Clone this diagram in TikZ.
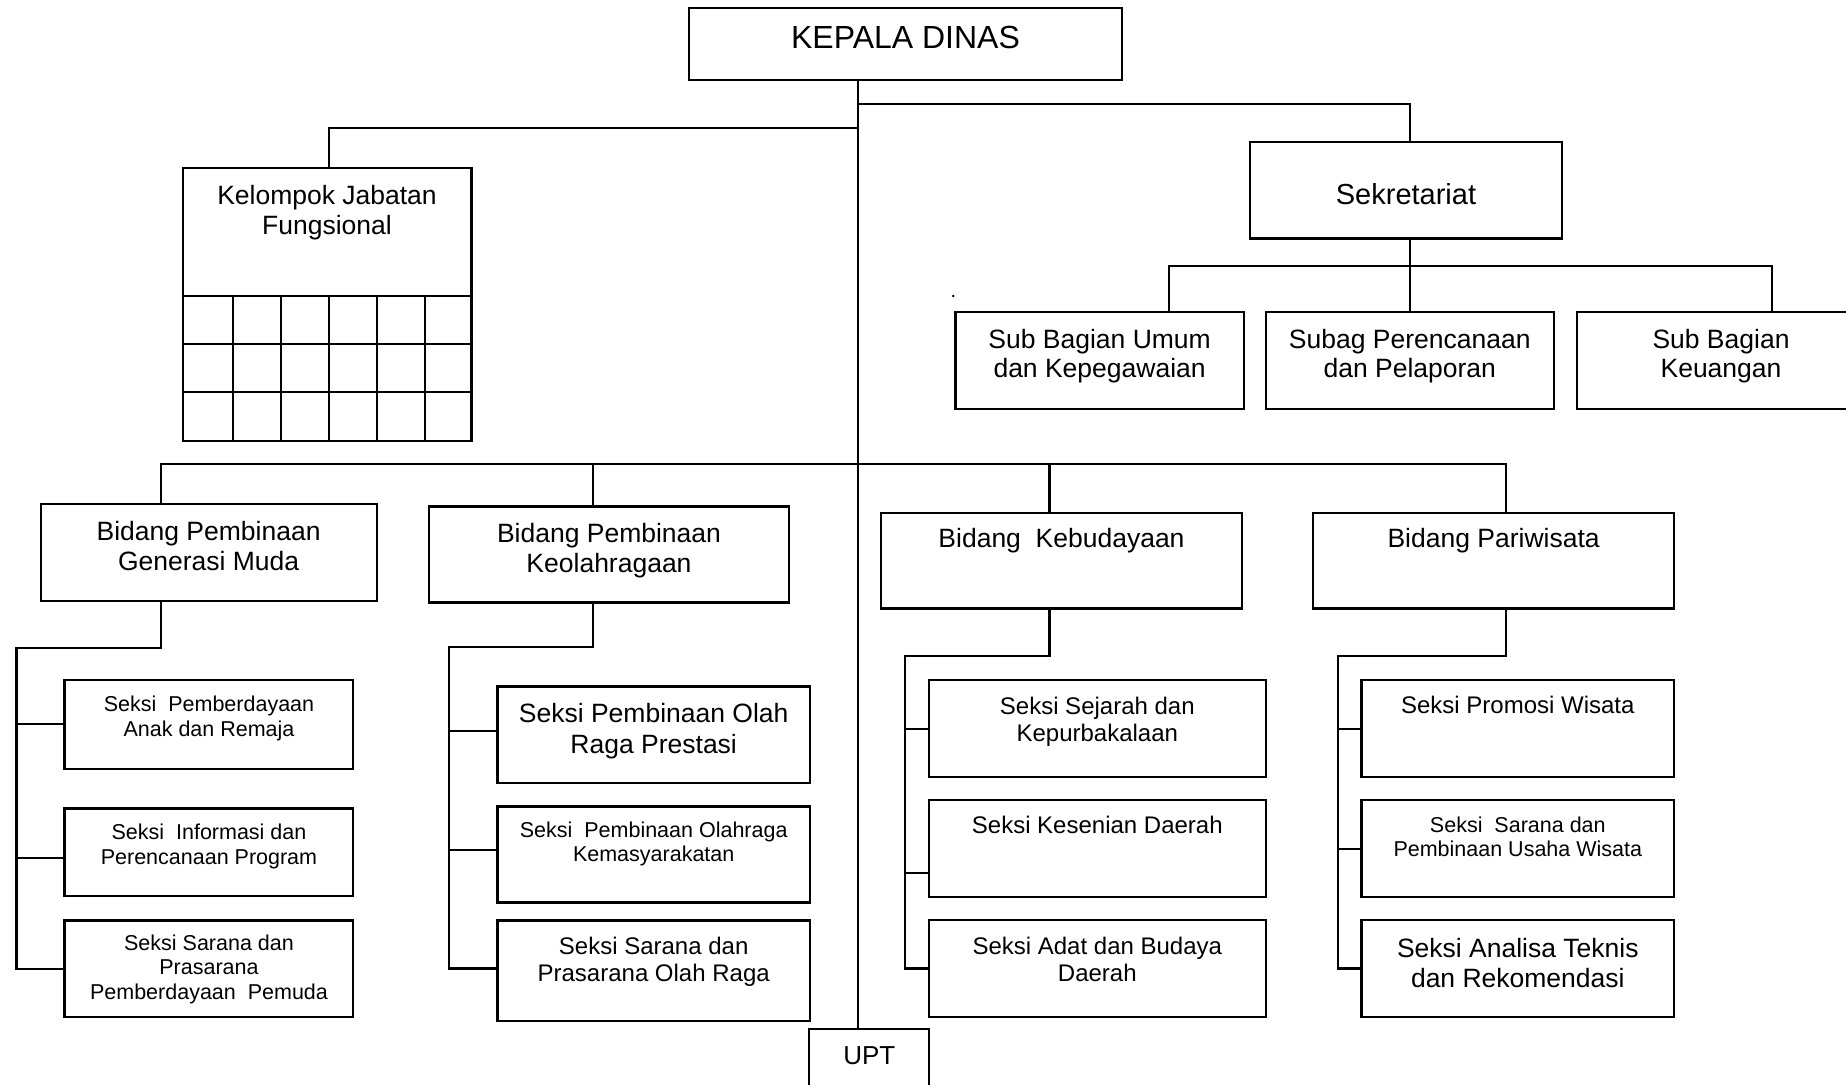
\documentclass[tikz,border=0pt]{standalone}
\usepackage{fontspec}
\setmainfont{Liberation Sans}

% box given by left, top, right, bottom (1 unit = 1pt, y grows downwards)
\newcommand\orgbox[5]{%
  \node[unit, minimum width={#4-#2}, minimum height={#5-#3}] (#1)
    at ({(#2+#4)/2},{(#3+#5)/2}) {};}

\begin{document}
\begin{tikzpicture}[x=1pt,y=-1pt,
  unit/.style={draw, line width=2.2pt, rectangle, inner sep=0pt},
  lnk/.style={line width=2.2pt},
  % labels are placed by the baseline of their last line
  lbl/.style={anchor=base, align=center, inner sep=0pt},
  fxl/.style={lbl, font=\fontsize{32}{36}\selectfont},
  fl/.style={lbl, font=\fontsize{29}{33}\selectfont},
  fb/.style={lbl, font=\fontsize{26.5}{30}\selectfont},
  fm/.style={lbl, font=\fontsize{24}{27}\selectfont},
  fs/.style={lbl, font=\fontsize{21.5}{24.6}\selectfont},
]
\useasboundingbox (0,0) rectangle (1846,1084);
\fill[white] (0,0) rectangle (1846,1084);
\clip (0,0) rectangle (1846,1084);

% ---------- boxes ----------
\orgbox{kepala}{689}{8}{1122}{80}
\orgbox{sek}{1250}{142}{1562}{238.5}
\orgbox{kel}{183}{168.3}{471.5}{440.7}
\orgbox{subA}{955.4}{312}{1243.8}{408.6}
\orgbox{subB}{1265.6}{312}{1554}{408.6}
\orgbox{subC}{1576.7}{312}{1870}{408.6}
\orgbox{gm}{40.6}{504}{376.7}{601}
\orgbox{ko}{429}{506.4}{789.3}{602.5}
\orgbox{kb}{881}{512.6}{1242}{608.4}
\orgbox{pw}{1313.2}{512.6}{1674}{608.4}
\orgbox{gmA}{64.5}{680.3}{353.3}{768.7}
\orgbox{gmB}{64.5}{808.5}{353.3}{896.3}
\orgbox{gmC}{64.5}{920.5}{353.3}{1016.6}
\orgbox{koA}{497.4}{686.5}{810}{782.6}
\orgbox{koB}{497.4}{806.4}{810}{902.5}
\orgbox{koC}{497.4}{920.5}{810}{1021}
\orgbox{kbA}{929}{680.3}{1265.6}{776.7}
\orgbox{kbB}{929}{799.9}{1265.6}{896.6}
\orgbox{kbC}{929}{920.2}{1265.6}{1016.6}
\orgbox{pwA}{1361.5}{680.3}{1674}{776.7}
\orgbox{pwB}{1361.5}{799.9}{1674}{896.6}
\orgbox{pwC}{1361.5}{920.2}{1674}{1016.6}
\orgbox{upt}{809.3}{1029}{929}{1120}

% grid of the functional group
\foreach \y in {296,344.3,392.3} \draw[lnk] (183,\y) -- (473,\y);
\foreach \x in {233,281,329,377,425} \draw[lnk] (\x,296) -- (\x,440.7);

% ---------- labels ----------
\node[fxl] (kepala-t) at (905.5,48) {KEPALA DINAS};
\node[fl] (sek-t) at (1406,204) {Sekretariat};
\node[fb] (kel-t) at (327,234) {Kelompok Jabatan\\Fungsional};
\node[fb, font=\fontsize{26.5}{29.4}\selectfont] (subA-t) at (1099.6,377.7) {Sub Bagian Umum\\dan Kepegawaian};
\node[fb, font=\fontsize{26.5}{29.4}\selectfont] (subB-t) at (1409.8,377.7) {Subag Perencanaan\\dan Pelaporan};
\node[fb, font=\fontsize{26.5}{29.4}\selectfont] (subC-t) at (1721,377.7) {Sub Bagian\\Keuangan};
\node[fb] (gm-t) at (208.6,570) {Bidang Pembinaan\\Generasi Muda};
\node[fb] (ko-t) at (609,572) {Bidang Pembinaan\\Keolahragaan};
\node[fb] (kb-t) at (1061.5,547) {Bidang\ \ Kebudayaan};
\node[fb] (pw-t) at (1493.6,547) {Bidang Pariwisata};

\node[fs] (gmA-t) at (209,736) {Seksi\ \ Pemberdayaan\\Anak dan Remaja};
\node[fs] (gmB-t) at (209,864) {Seksi\ \ Informasi dan\\Perencanaan Program};
\node[fs] (gmC-t) at (209,999.5) {Seksi Sarana dan\\Prasarana\\Pemberdayaan\ \ Pemuda};

\node[fb, font=\fontsize{26.5}{31}\selectfont] (koA-t) at (653.7,753) {Seksi Pembinaan Olah\\Raga Prestasi};
\node[fs] (koB-t) at (653.7,861.7) {Seksi\ \ Pembinaan Olahraga\\Kemasyarakatan};
\node[fm, font=\fontsize{24}{26.6}\selectfont] (koC-t) at (653.7,981) {Seksi Sarana dan\\Prasarana Olah Raga};

\node[fm] (kbA-t) at (1097.3,741.4) {Seksi Sejarah dan\\Kepurbakalaan};
\node[fm] (kbB-t) at (1097.3,833) {Seksi Kesenian Daerah};
\node[fm, font=\fontsize{24}{26.6}\selectfont] (kbC-t) at (1097.3,981) {Seksi Adat dan Budaya\\Daerah};

\node[fm] (pwA-t) at (1517.8,713) {Seksi Promosi Wisata};
\node[fs] (pwB-t) at (1517.8,856.6) {Seksi\ \ Sarana dan\\Pembinaan Usaha Wisata};
\node[fb] (pwC-t) at (1517.8,987) {Seksi Analisa Teknis\\dan Rekomendasi};

\node[fb, font=\fontsize{26}{30}\selectfont] (upt-t) at (869.3,1064.3) {UPT};

\fill (953.3,296) circle (1.4pt);

% ---------- connectors ----------
\coordinate (tr) at (857.7,0);
\draw[lnk] (kepala.south -| tr) -- (upt.north -| tr);

\coordinate (jS) at (857.7,103.7);
\coordinate (xS) at (1410,0);
\draw[lnk] (jS) -| (sek.north -| xS);

\coordinate (jK) at (857.7,128.2);
\coordinate (xK) at (329,0);
\draw[lnk] (jK) -| (kel.north -| xK);

% secretariat units
\coordinate (yT) at (0,266.2);
\coordinate (xU1) at (1169,0);
\coordinate (xU3) at (1772,0);
\draw[lnk] (sek.south -| xS) -- (subB.north -| xS);
\draw[lnk] (subA.north -| xU1) |- (yT -| xU3) -- (subC.north -| xU3);

% fields bus
\coordinate (yB) at (0,464.2);
\coordinate (xGM) at (160.7,0);
\coordinate (xKO) at (593.3,0);
\coordinate (xKB) at (1049.5,0);
\coordinate (xPW) at (1505.7,0);
\draw[lnk] (gm.north -| xGM) |- (yB -| xPW) -- (pw.north -| xPW);
\draw[lnk] (yB -| xKO) -- (ko.north -| xKO);
\draw[lnk] (yB -| xKB) -- (kb.north -| xKB);

% Generasi Muda sections
\coordinate (gmJ) at (16.5,647.7);
\coordinate (gm1) at (16.5,724.2);
\coordinate (gm2) at (16.5,858.3);
\coordinate (gm3) at (16.5,968.6);
\draw[lnk] (gm.south -| xGM) |- (gmJ) -- (gm3) -- (gm3 -| gmC.west);
\draw[lnk] (gm1) -- (gm1 -| gmA.west);
\draw[lnk] (gm2) -- (gm2 -| gmB.west);

% Keolahragaan sections
\coordinate (koJ) at (449,646.7);
\coordinate (ko1) at (449,730.7);
\coordinate (ko2) at (449,850);
\coordinate (ko3) at (449,968.5);
\draw[lnk] (ko.south -| xKO) |- (koJ) -- (ko3) -- (ko3 -| koC.west);
\draw[lnk] (ko1) -- (ko1 -| koA.west);
\draw[lnk] (ko2) -- (ko2 -| koB.west);

% Kebudayaan sections
\coordinate (kbJ) at (905,656);
\coordinate (kb1) at (905,728.7);
\coordinate (kb2) at (905,872.8);
\coordinate (kb3) at (905,968.5);
\draw[lnk] (kb.south -| xKB) |- (kbJ) -- (kb3) -- (kb3 -| kbC.west);
\draw[lnk] (kb1) -- (kb1 -| kbA.west);
\draw[lnk] (kb2) -- (kb2 -| kbB.west);

% Pariwisata sections
\coordinate (pwJ) at (1338,656);
\coordinate (pw1) at (1338,728.7);
\coordinate (pw2) at (1338,848.6);
\coordinate (pw3) at (1338,968.5);
\draw[lnk] (pw.south -| xPW) |- (pwJ) -- (pw3) -- (pw3 -| pwC.west);
\draw[lnk] (pw1) -- (pw1 -| pwA.west);
\draw[lnk] (pw2) -- (pw2 -| pwB.west);
\end{tikzpicture}
\end{document}
